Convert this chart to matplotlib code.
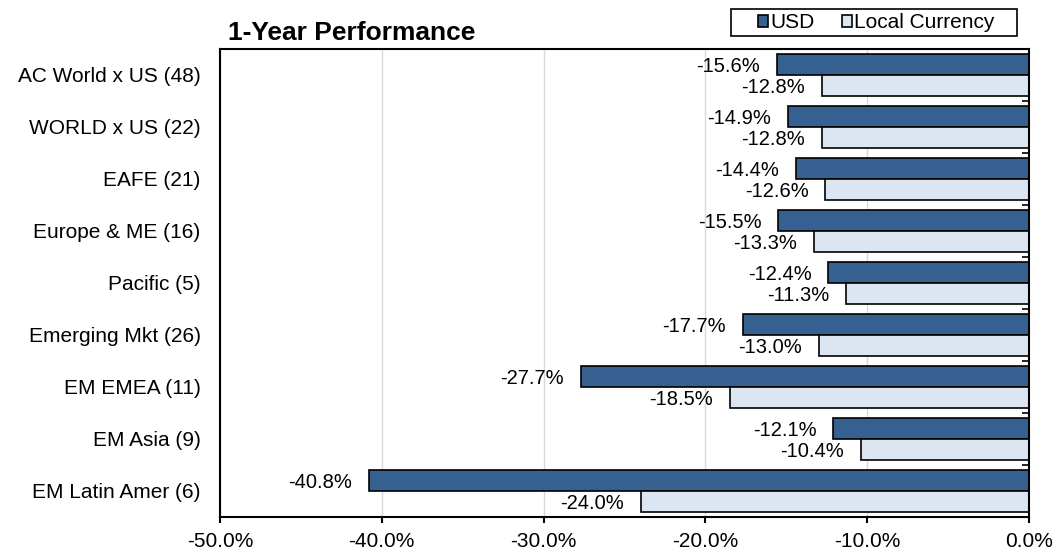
import matplotlib.pyplot as plt
import matplotlib.patches as mpatches
import numpy as np

plt.rcParams['font.family'] = ['Liberation Sans', 'DejaVu Sans']

regions = ["AC World x US (48)", "WORLD x US (22)", "EAFE (21)", "Europe & ME (16)",
           "Pacific (5)", "Emerging Mkt (26)", "EM EMEA (11)", "EM Asia (9)",
           "EM Latin Amer (6)"]
usd = [-15.6, -14.9, -14.4, -15.5, -12.4, -17.7, -27.7, -12.1, -40.8]
local = [-12.8, -12.8, -12.6, -13.3, -11.3, -13.0, -18.5, -10.4, -24.0]
xticks = [-50, -40, -30, -20, -10, 0]

usd_color = "#36608F"
local_color = "#DCE6F2"

W, H = 1061, 552
fig = plt.figure(figsize=(W/100, H/100), dpi=100)
ax = fig.add_axes([220/W, 1-517/H, 809/W, 468/H])

y = np.arange(len(regions))
h = 0.41

ax.barh(y - h/2, usd, height=h, color=usd_color, edgecolor="black", linewidth=1.2, label="USD", zorder=3)
ax.barh(y + h/2, local, height=h, color=local_color, edgecolor="black", linewidth=1.2, label="Local Currency", zorder=3)

# value labels, right aligned left of bar end
for i in range(len(regions)):
    ax.annotate("%.1f%%" % usd[i], (usd[i], y[i] - h/2), xytext=(-12, -1.5), textcoords="offset points",
                ha="right", va="center", fontsize=14.5)
    ax.annotate("%.1f%%" % local[i], (local[i], y[i] + h/2), xytext=(-12, -1.5), textcoords="offset points",
                ha="right", va="center", fontsize=14.5)

ax.set_xlim(-50, 0)
ax.set_ylim(8.5, -0.5)
ax.set_xticks(xticks)
ax.set_xticklabels(["%.1f%%" % t for t in xticks], fontsize=15)
ax.set_yticks(y)
ax.set_yticklabels(regions, fontsize=15)
ax.set_yticks(np.arange(-0.5, 9, 1), minor=True)

ax.tick_params(axis="y", which="major", length=0, pad=14)
ax.tick_params(axis="y", which="minor", left=False, right=True, direction="in", length=5, width=1.2)
ax.tick_params(axis="x", which="major", length=4.5, width=1.5, pad=6)

ax.grid(axis="x", color="#D9D9D9", linewidth=1, zorder=0)
for s in ax.spines.values():
    s.set_linewidth(1.5)
    s.set_zorder(4)

fig.text(228/W, 1-33/H, "1-Year Performance", fontsize=19, fontweight="bold", va="center", ha="left")

# legend frame drawn by hand so the padding matches
fig.patches.append(mpatches.Rectangle((731/W, 1-36/H), 286/W, 27/H, transform=fig.transFigure,
                                      facecolor="white", edgecolor="black", linewidth=1.2))
leg = fig.legend(loc="center left", bbox_to_anchor=(758/W, 1-22.5/H),
                 ncol=2, fontsize=15, frameon=False, borderaxespad=0, borderpad=0,
                 handlelength=0.5, handleheight=0.5, handletextpad=0.1, columnspacing=1.3)

fig.savefig("out.png", dpi=100)
